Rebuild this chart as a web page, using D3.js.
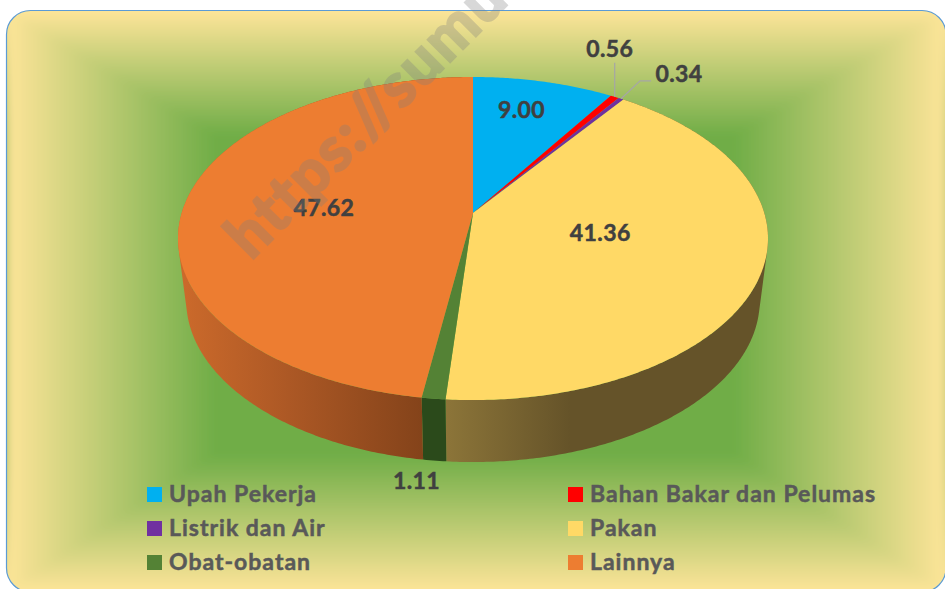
<!DOCTYPE html>
<html>
<head>
<meta charset="utf-8">
<script src="https://cdn.jsdelivr.net/npm/d3@7"></script>
<style>
  html, body { margin: 0; padding: 0; background: #fff; overflow: hidden; }
  svg { display: block; }
  text { font-family: Lato, "Open Sans", sans-serif; font-weight: 700; }
</style>
</head>
<body>
<script>
const WIDTH = 945;
const HEIGHT = 589;

const categories = ['Upah Pekerja', 'Bahan Bakar dan Pelumas', 'Listrik dan Air', 'Pakan', 'Obat-obatan', 'Lainnya'];
const values = [9.00, 0.56, 0.34, 41.36, 1.11, 47.62];
const valueLabels = ['9.00', '0.56', '0.34', '41.36', '1.11', '47.62'];
const colors = ['#00B0F0', '#FF0000', '#7030A0', '#FFD966', '#548235', '#ED7D31'];
const legendOrder = [0, 1, 2, 3, 4, 5];

// label offset from the rim point of each slice
const labelShift = [[-22, 28], [-5, -48], [58, -25], [-162, -38], [-17, 82], [138, 6]];

// perspective of the pie, fitted on the picture
const CX = 473, CY = 213, AX = 291.3, AY = 157.5, K = 0.158;
const DEPTH = 62, SHRINK = 0.972;

var project = function (angle, r) {
    var u = r * Math.sin(angle), v = r * Math.cos(angle), w = 1 + K * v;
    return [CX + AX * u / w, CY - AY * v / w];
};
var projectLow = function (angle) {
    var p = project(angle, 1);
    return [CX + (p[0] - CX) * SHRINK, p[1] + DEPTH];
};
var angleSteps = function (a0, a1) {
    var n = Math.max(2, Math.ceil((a1 - a0) / 0.01));
    return d3.range(n + 1).map(function (i) { return a0 + (a1 - a0) * i / n; });
};

var svg = d3.select('body').append('svg').attr('width', WIDTH).attr('height', HEIGHT);
var defs = svg.append('defs');
var line = d3.line();

// background: rectangular path gradient, yellow border to green middle
const BOX = { x0: 6.5, y0: 10.5, x1: 946, y1: 592, r: 24 };
const INNER = { x0: 215, y0: 135, x1: 735, y1: 455 };
const BG_EDGE = '#FEE599', BG_MID = '#70AD47';

defs.append('clipPath').attr('id', 'box').append('rect')
    .attr('x', BOX.x0).attr('y', BOX.y0)
    .attr('width', BOX.x1 - BOX.x0).attr('height', BOX.y1 - BOX.y0)
    .attr('rx', BOX.r);
defs.append('filter').attr('id', 'soft')
    .attr('x', 0).attr('y', 0).attr('width', 1).attr('height', 1)
    .append('feGaussianBlur').attr('stdDeviation', 5);

var addLinear = function (id, x1, y1, x2, y2, stops) {
    var g = defs.append('linearGradient').attr('id', id)
        .attr('gradientUnits', 'userSpaceOnUse')
        .attr('x1', x1).attr('y1', y1).attr('x2', x2).attr('y2', y2);
    stops.forEach(function (s) {
        g.append('stop').attr('offset', s[0]).attr('stop-color', s[1]);
    });
};
var edgeStops = [[0, BG_EDGE], [1, BG_MID]];
addLinear('bgTop', 0, BOX.y0, 0, INNER.y0, edgeStops);
addLinear('bgBottom', 0, BOX.y1, 0, INNER.y1, edgeStops);
addLinear('bgLeft', BOX.x0, 0, INNER.x0, 0, edgeStops);
addLinear('bgRight', BOX.x1, 0, INNER.x1, 0, edgeStops);

var bgClip = svg.append('g').attr('clip-path', 'url(#box)');
var bg = bgClip.append('g').attr('filter', 'url(#soft)');
bg.append('rect').attr('x', 0).attr('y', 0).attr('width', WIDTH + 5).attr('height', INNER.y0 + 1).attr('fill', 'url(#bgTop)');
bg.append('rect').attr('x', 0).attr('y', INNER.y0).attr('width', WIDTH + 5).attr('height', INNER.y1 - INNER.y0).attr('fill', BG_MID);
bg.append('rect').attr('x', 0).attr('y', INNER.y1 - 1).attr('width', WIDTH + 5).attr('height', HEIGHT + 10 - INNER.y1).attr('fill', 'url(#bgBottom)');
bg.append('polygon')
    .attr('points', [[BOX.x0, BOX.y0], [INNER.x0, INNER.y0], [INNER.x0, INNER.y1], [BOX.x0, BOX.y1]].join(' '))
    .attr('fill', 'url(#bgLeft)');
bg.append('polygon')
    .attr('points', [[BOX.x1, BOX.y0], [INNER.x1, INNER.y0], [INNER.x1, INNER.y1], [BOX.x1, BOX.y1]].join(' '))
    .attr('fill', 'url(#bgRight)');
// the blur would fade the outer border, so keep the edge colour under it
bgClip.insert('rect', 'g')
    .attr('x', 0).attr('y', 0).attr('width', WIDTH + 5).attr('height', HEIGHT + 10)
    .attr('fill', BG_EDGE);

svg.append('rect')
    .attr('x', BOX.x0).attr('y', BOX.y0)
    .attr('width', BOX.x1 - BOX.x0).attr('height', BOX.y1 - BOX.y0)
    .attr('rx', BOX.r)
    .attr('fill', 'none').attr('stroke', '#5B9BD5').attr('stroke-width', 1.2);

// slices
var arcs = d3.pie().sort(null)(values).map(function (d, i) {
    return { i: i, a0: d.startAngle, a1: d.endAngle, mid: (d.startAngle + d.endAngle) / 2 };
});

// side wall shading, left to right, darker than the top colours
addLinear('sideOrange', 180, 0, 423, 0, [[0, '#CC6A2B'], [0.45, '#AC5825'], [1, '#84431A']]);
addLinear('sidePakan', 446, 0, 570, 0, [[0, '#8C7539'], [1, '#655329']]);
addLinear('sideGreen', 423, 0, 447, 0, [[0, '#2B4A1B'], [1, '#2B4A1B']]);
var sideFill = { 3: 'url(#sidePakan)', 4: 'url(#sideGreen)', 5: 'url(#sideOrange)' };

// wall = union of small quads with the same winding, so the silhouette stays straight
var wallPath = function (d) {
    var steps = angleSteps(d.a0, d.a1);
    return d3.pairs(steps).map(function (s) {
        var quad = [project(s[0], 1), project(s[1], 1), projectLow(s[1]), projectLow(s[0])];
        if (d3.polygonArea(quad) < 0) quad.reverse();
        return line(quad) + 'Z';
    }).join('');
};

var pie = svg.append('g');
pie.selectAll('path.side')
    .data(arcs.filter(function (d) { return sideFill[d.i]; }))
    .enter().append('path')
    .attr('class', 'side')
    .attr('d', wallPath)
    .attr('fill', function (d) { return sideFill[d.i]; });

pie.selectAll('path.top')
    .data(arcs)
    .enter().append('path')
    .attr('class', 'top')
    .attr('d', function (d) {
        var rim = angleSteps(d.a0, d.a1).map(function (a) { return project(a, 1); });
        return line([project(0, 0)].concat(rim)) + 'Z';
    })
    .attr('fill', function (d) { return colors[d.i]; });

// leader lines for the two thin slices
var rimPoint = function (i) { return project(arcs[i].mid, 1); };
var labelPoint = function (i) {
    var p = rimPoint(i);
    return [p[0] + labelShift[i][0], p[1] + labelShift[i][1]];
};
var p1 = rimPoint(1), p2 = rimPoint(2), l1 = labelPoint(1), l2 = labelPoint(2);
var leaders = [
    [p1, [p1[0], l1[1] + 14]],
    [p2, [l2[0] - 39, l2[1] + 7], [l2[0] - 28, l2[1] + 7]]
];
svg.selectAll('path.leader')
    .data(leaders)
    .enter().append('path')
    .attr('class', 'leader')
    .attr('d', function (d) { return line(d); })
    .attr('fill', 'none')
    .attr('stroke', '#A6A6A6')
    .attr('stroke-width', 1.2);

// value labels
svg.selectAll('text.value')
    .data(arcs)
    .enter().append('text')
    .attr('class', 'value')
    .attr('x', function (d) { return labelPoint(d.i)[0]; })
    .attr('y', function (d) { return labelPoint(d.i)[1]; })
    .attr('dy', '0.36em')
    .attr('text-anchor', 'middle')
    .attr('font-size', 23)
    .attr('letter-spacing', 0.4)
    .attr('fill', '#404040')
    .attr('stroke', '#404040')
    .attr('stroke-width', 0.5)
    .text(function (d) { return valueLabels[d.i]; });

// legend, two columns filled row by row
var legendX = d3.scalePoint().domain([0, 1]).range([147, 568]);
var legendY = d3.scalePoint().domain([0, 1, 2]).range([487, 555]);
var legend = svg.selectAll('g.legend')
    .data(legendOrder)
    .enter().append('g')
    .attr('class', 'legend')
    .attr('transform', function (d) {
        return 'translate(' + legendX(d % 2) + ',' + legendY(Math.floor(d / 2)) + ')';
    });
legend.append('rect')
    .attr('width', 15).attr('height', 15)
    .attr('fill', function (d) { return colors[d]; });
legend.append('text')
    .attr('x', 22).attr('y', 7)
    .attr('dy', '0.36em')
    .attr('font-size', 23)
    .attr('letter-spacing', 1)
    .attr('fill', '#595959')
    .attr('stroke', '#595959')
    .attr('stroke-width', 0.5)
    .text(function (d) { return categories[d]; });

// watermark, runs off the top of the picture like the original
svg.append('text')
    .attr('transform', 'translate(251,261) rotate(-45)')
    .attr('font-size', 61)
    .attr('font-weight', 900)
    .attr('letter-spacing', 2)
    .attr('fill', '#7f7f7f')
    .attr('stroke', '#7f7f7f')
    .attr('stroke-width', 2.5)
    .attr('opacity', 0.3)
    .text('https://sumu');
</script>
</body>
</html>
